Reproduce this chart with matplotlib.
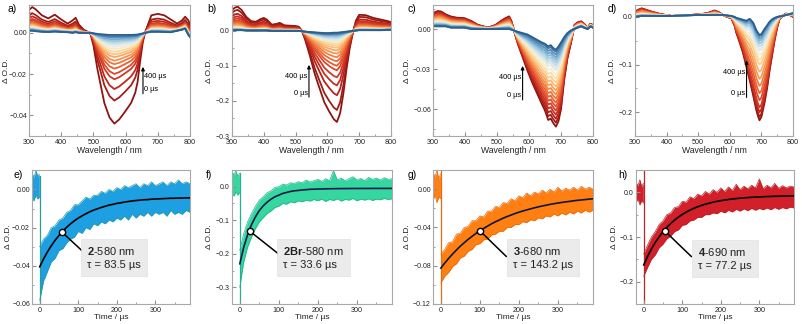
import numpy as np
import matplotlib
matplotlib.use('Agg')
import matplotlib.pyplot as plt
from matplotlib.ticker import MultipleLocator
from matplotlib.colors import LinearSegmentedColormap

# ---------------- data: transient spectra (0 us and 400 us) ----------------
wl_a = [300, 310, 320, 340, 360, 380, 400, 420, 435, 445, 455, 470, 490, 500, 513, 534,
        550, 565, 580, 596, 617, 630, 637, 645, 653, 660, 680, 700, 720, 740, 760, 775, 785, 795, 800]
a_0us = [0.011, 0.0125, 0.0115, 0.0085, 0.007, 0.0088, 0.0065, 0.0045, 0.006, 0.0073, 0.004, 0.0015,
         0.0, -0.006, -0.018, -0.034, -0.041, -0.044, -0.042, -0.0387, -0.034, -0.029, -0.024, -0.014,
         -0.005, 0.0, 0.0085, 0.0092, 0.0085, 0.0065, 0.0045, 0.006, 0.0078, 0.006, 0.004]
a_400us = [0.001, 0.001, 0.0008, 0.0005, 0.0004, 0.0006, 0.0004, 0.0003, 0.0, 0.0003, 0.0, 0.0,
           0.0, -0.0002, -0.0005, -0.0008, -0.001, -0.001, -0.001, -0.001, -0.001, -0.0009, -0.0008,
           -0.0005, -0.0003, 0.0, 0.0005, 0.0005, 0.0004, 0.0003, 0.001, 0.0015, 0.002, -0.001, -0.002]
a_frac = [1.0, 0.74, 0.61, 0.50, 0.44, 0.38, 0.33, 0.29, 0.25, 0.22, 0.19, 0.16, 0.135,
          0.11, 0.09, 0.07, 0.05, 0.03, 0.015, 0.0]

wl_b = [300, 310, 318, 330, 345, 360, 375, 390, 400, 410, 425, 440, 450, 465, 480, 500, 510,
        520, 530, 545, 560, 575, 590, 605, 620, 630, 640, 650, 660, 670, 680, 690, 700, 720,
        745, 770, 790, 800]
b_0us = [0.060, 0.067, 0.069, 0.060, 0.040, 0.028, 0.026, 0.034, 0.037, 0.032, 0.018, 0.020,
         0.023, 0.016, 0.015, 0.014, 0.012, 0.0, -0.025, -0.071, -0.122, -0.163, -0.203, -0.229,
         -0.252, -0.260, -0.235, -0.180, -0.110, -0.050, -0.005, 0.030, 0.046, 0.045, 0.037,
         0.032, 0.028, 0.025]
b_400us = [0.002, 0.002, 0.002, 0.002, 0.001, 0.001, 0.001, 0.001, 0.001, 0.001, 0.0, 0.0, 0.0,
           0.0, 0.0, 0.0, 0.0, -0.001, -0.002, -0.003, -0.004, -0.005, -0.006, -0.006, -0.005,
           -0.005, -0.004, -0.003, -0.002, -0.001, 0.0, 0.001, 0.002, 0.002, 0.002, 0.002, 0.003, 0.003]
b_frac = [1.0, 0.865, 0.70, 0.59, 0.50, 0.42, 0.37, 0.32, 0.275, 0.235, 0.20, 0.17, 0.145,
          0.125, 0.105, 0.09, 0.075, 0.062, 0.05, 0.04, 0.03, 0.022, 0.015, 0.008, 0.0]

wl_c = [300, 315, 325, 340, 356, 375, 398, 420, 440, 460, 476, 495, 512, 525, 538, 545, 552,
        565, 580, 595, 610, 625, 640, 650, 660, 668, 675, 684, 692, 700, 710, 720, 731, 742,
        752, 763, 772, 783, 792, 800]
c_0us = [0.012, 0.0135, 0.0132, 0.011, 0.0094, 0.0085, 0.0082, 0.006, 0.0032, 0.0018, 0.0014,
         0.003, 0.006, 0.008, 0.0095, 0.006, 0.0, -0.011, -0.021, -0.031, -0.040, -0.048, -0.056,
         -0.061, -0.068, -0.067, -0.070, -0.073, -0.069, -0.060, -0.038, -0.022, -0.0105, 0.003,
         0.005, 0.0058, 0.004, 0.001, 0.004, 0.003]
c_400us = [0.002, 0.002, 0.002, 0.002, 0.001, 0.001, 0.001, 0.0, 0.0, 0.0, 0.0, 0.0, 0.0, 0.0,
           0.0, -0.0005, -0.001, -0.002, -0.003, -0.004, -0.006, -0.008, -0.010, -0.011, -0.013,
           -0.012, -0.014, -0.0155, -0.013, -0.010, -0.006, -0.003, -0.001, 0.0, 0.001, 0.002,
           0.001, 0.0, 0.002, 0.001]
c_frac = [1.0, 0.948, 0.896, 0.843, 0.791, 0.739, 0.687, 0.635, 0.583, 0.530, 0.478, 0.426,
          0.374, 0.322, 0.270, 0.235, 0.200, 0.165, 0.130, 0.096, 0.061, 0.026, 0.0]

wl_d = [300, 310, 321, 335, 353, 380, 416, 450, 500, 530, 552, 565, 578, 592, 605, 615, 621,
        632, 642, 652, 663, 674, 684, 690, 694, 700, 710, 718, 726, 734, 742, 750, 757, 768,
        778, 790, 800]
d_0us = [0.011, 0.015, 0.018, 0.015, 0.011, 0.006, 0.002, 0.003, 0.005, 0.008, 0.0135, 0.010,
         0.004, 0.0, -0.003, -0.018, -0.034, -0.055, -0.076, -0.103, -0.133, -0.165, -0.196,
         -0.210, -0.217, -0.210, -0.180, -0.150, -0.112, -0.080, -0.048, -0.022, -0.005, 0.003,
         0.007, 0.004, 0.0]
d_400us = [0.0, 0.001, 0.002, 0.002, 0.002, 0.002, 0.002, 0.003, 0.004, 0.004, 0.004, 0.004,
           0.004, 0.003, 0.002, 0.0, -0.002, -0.004, -0.006, -0.008, -0.004, -0.012, -0.028,
           -0.034, -0.038, -0.036, -0.025, -0.018, -0.010, -0.005, -0.002, 0.0, 0.001, 0.002,
           0.004, 0.006, 0.008]
d_frac = [1.0, 0.96, 0.905, 0.849, 0.765, 0.682, 0.598, 0.514, 0.430, 0.346, 0.291, 0.235,
          0.179, 0.134, 0.101, 0.067, 0.039, 0.011, 0.0]

# ---------------- data: kinetic traces ----------------
t_grid = [0, 10, 20, 30, 40, 50, 60, 70, 80, 90, 100, 110, 120, 130, 140, 150, 160, 170, 180,
          190, 200, 210, 220, 230, 240, 250, 260, 270, 280, 290, 300, 310, 320, 330, 340, 350,
          360, 370, 380, 390]
t_pre = [-20, -15, -10, -5, -1]

e_fit = [-0.0405, -0.0364, -0.0327, -0.0295, -0.0266, -0.0241, -0.0218, -0.0198, -0.0180,
         -0.0164, -0.0150, -0.0138, -0.0127, -0.0117, -0.0108, -0.0101, -0.0094, -0.0088,
         -0.0082, -0.0078, -0.0073, -0.0070, -0.0066, -0.0063, -0.0060, -0.0058, -0.0056,
         -0.0054, -0.0053, -0.0051, -0.0050, -0.0049, -0.0048, -0.0047, -0.0046, -0.0046,
         -0.0045, -0.0045, -0.0044, -0.0044]
e_hi = [-0.030, -0.026, -0.024, -0.020, -0.019, -0.016, -0.015, -0.012, -0.011, -0.008, -0.008,
        -0.006, -0.004, -0.005, -0.003, -0.003, -0.001, -0.002, 0.000, -0.001, 0.001, 0.000,
        0.002, 0.001, 0.002, 0.003, 0.001, 0.003, 0.002, 0.004, 0.002, 0.003, 0.004, 0.002,
        0.004, 0.003, 0.005, 0.003, 0.004, 0.003]
e_lo = [-0.058, -0.048, -0.043, -0.038, -0.036, -0.032, -0.031, -0.028, -0.026, -0.025, -0.022,
        -0.023, -0.020, -0.021, -0.018, -0.019, -0.017, -0.018, -0.016, -0.017, -0.015, -0.016,
        -0.014, -0.016, -0.013, -0.015, -0.013, -0.014, -0.012, -0.014, -0.012, -0.013, -0.012,
        -0.014, -0.011, -0.013, -0.012, -0.013, -0.011, -0.012]
e_pre_hi = [0.009, 0.006, 0.010, 0.007, 0.008]
e_pre_lo = [-0.004, -0.006, -0.003, -0.005, -0.004]
e_spike = [0.007, -0.060]

f_fit = [-0.230, -0.181, -0.143, -0.113, -0.090, -0.071, -0.057, -0.046, -0.037, -0.030,
         -0.025, -0.020, -0.017, -0.014, -0.012, -0.011, -0.0095, -0.0086, -0.0077, -0.0073,
         -0.0068, -0.0065, -0.0062, -0.0060, -0.0058, -0.0056, -0.0055, -0.0054, -0.0053,
         -0.0052, -0.0052, -0.0051, -0.0051, -0.0051, -0.0050, -0.0050, -0.0050, -0.0050,
         -0.0050, -0.0050]
f_hi = [-0.190, -0.140, -0.105, -0.080, -0.058, -0.040, -0.030, -0.018, -0.012, -0.002, 0.000,
        0.008, 0.005, 0.012, 0.010, 0.015, 0.012, 0.020, 0.014, 0.018, 0.022, 0.016, 0.024,
        0.018, 0.048, 0.020, 0.026, 0.018, 0.024, 0.030, 0.020, 0.025, 0.018, 0.028, 0.022,
        0.026, 0.020, 0.027, 0.022, 0.024]
f_lo = [-0.300, -0.225, -0.180, -0.150, -0.125, -0.105, -0.092, -0.080, -0.072, -0.062, -0.058,
        -0.050, -0.052, -0.045, -0.048, -0.042, -0.045, -0.040, -0.043, -0.038, -0.042, -0.037,
        -0.044, -0.038, -0.041, -0.036, -0.043, -0.038, -0.040, -0.035, -0.042, -0.037, -0.040,
        -0.036, -0.041, -0.037, -0.039, -0.035, -0.038, -0.036]
f_pre_hi = [0.045, 0.035, 0.048, 0.030, 0.040]
f_pre_lo = [-0.020, -0.028, -0.015, -0.025, -0.018]
f_spike = [0.040, -0.350]

g_fit = [-0.0825, -0.0773, -0.0724, -0.0679, -0.0636, -0.0596, -0.0560, -0.0525, -0.0493,
         -0.0463, -0.0435, -0.0410, -0.0386, -0.0362, -0.0341, -0.0322, -0.0303, -0.0286,
         -0.0271, -0.0255, -0.0241, -0.0229, -0.0217, -0.0206, -0.0195, -0.0185, -0.0176,
         -0.0168, -0.0159, -0.0152, -0.0145, -0.0139, -0.0133, -0.0128, -0.0122, -0.0117,
         -0.0113, -0.0109, -0.0104, -0.0101]
g_hi = [-0.068, -0.063, -0.056, -0.055, -0.047, -0.046, -0.040, -0.039, -0.033, -0.033, -0.028,
        -0.029, -0.023, -0.023, -0.018, -0.019, -0.014, -0.015, -0.010, -0.012, -0.007, -0.009,
        -0.004, -0.007, -0.003, -0.005, -0.001, -0.004, 0.000, -0.003, 0.002, -0.002, 0.001,
        -0.001, 0.002, -0.001, 0.003, 0.000, 0.002, 0.000]
g_lo = [-0.098, -0.091, -0.087, -0.081, -0.078, -0.072, -0.070, -0.065, -0.063, -0.058, -0.057,
        -0.053, -0.052, -0.048, -0.047, -0.044, -0.044, -0.040, -0.040, -0.037, -0.037, -0.034,
        -0.035, -0.032, -0.033, -0.030, -0.031, -0.028, -0.029, -0.026, -0.028, -0.025, -0.027,
        -0.024, -0.026, -0.023, -0.025, -0.022, -0.024, -0.022]
g_pre_hi = [0.018, 0.012, 0.020, 0.010, 0.016]
g_pre_lo = [-0.012, -0.006, -0.014, -0.008, -0.010]
g_spike = [0.020, -0.120]

h_fit = [-0.1625, -0.1435, -0.1270, -0.1124, -0.0997, -0.0883, -0.0785, -0.0698, -0.0622,
         -0.0555, -0.0496, -0.0445, -0.0398, -0.0359, -0.0323, -0.0292, -0.0266, -0.0243,
         -0.0221, -0.0202, -0.0187, -0.0173, -0.0160, -0.0149, -0.0140, -0.0131, -0.0123,
         -0.0117, -0.0112, -0.0106, -0.0103, -0.0098, -0.0095, -0.0092, -0.0089, -0.0087,
         -0.0084, -0.0082, -0.0081, -0.0080]
h_hi = [-0.138, -0.118, -0.100, -0.088, -0.072, -0.064, -0.050, -0.046, -0.034, -0.032, -0.020,
        -0.022, -0.010, -0.014, -0.004, -0.008, 0.002, -0.004, 0.006, 0.000, 0.010, 0.002, 0.012,
        0.004, 0.018, 0.006, 0.014, 0.008, 0.016, 0.010, 0.030, 0.008, 0.016, 0.010, 0.020,
        0.009, 0.015, 0.010, 0.014, 0.012]
h_lo = [-0.188, -0.168, -0.150, -0.140, -0.124, -0.116, -0.104, -0.098, -0.088, -0.084, -0.074,
        -0.072, -0.064, -0.062, -0.056, -0.056, -0.050, -0.050, -0.046, -0.048, -0.042, -0.046,
        -0.040, -0.044, -0.038, -0.042, -0.037, -0.041, -0.036, -0.040, -0.036, -0.039, -0.035,
        -0.039, -0.034, -0.038, -0.034, -0.037, -0.033, -0.035]
h_pre_hi = [0.022, 0.015, 0.028, 0.012, 0.020]
h_pre_lo = [-0.022, -0.015, -0.028, -0.018, -0.024]
h_spike = [0.050, -0.250]

# marker on the fit, end of connector, labels
mark_t = [57, 25, 100, 56]
mark_v = [-0.0222, -0.132, -0.0435, -0.0876]
conn_t = [128, 103, 168, 124]
conn_v = [-0.0355, -0.204, -0.0704, -0.144]
compound = ['2', '2Br', '3', '4']
probe_nm = [580, 580, 680, 690]
tau_us = [83.5, 33.6, 143.2, 77.2]

# ---------------- style ----------------
plt.rcParams.update({
    'font.family': ['Liberation Sans', 'DejaVu Sans'],
    'font.size': 5.3,
    'mathtext.fontset': 'custom',
    'mathtext.rm': 'Liberation Sans',
    'mathtext.bf': 'Liberation Sans:bold',
    'axes.edgecolor': '#a8a8a8',
    'axes.linewidth': 0.8,
    'xtick.direction': 'in', 'ytick.direction': 'in',
    'xtick.color': '#909090', 'ytick.color': '#909090',
    'xtick.labelcolor': '#222222', 'ytick.labelcolor': '#222222',
    'xtick.major.size': 3, 'ytick.major.size': 3,
    'xtick.minor.size': 1.6, 'ytick.minor.size': 1.6,
    'xtick.major.pad': 2, 'ytick.major.pad': 1.5,
    'xtick.labelsize': 5.2, 'ytick.labelsize': 5.0,
})

tas_cmap = LinearSegmentedColormap.from_list('tas', [
    '#8c1610', '#c0261d', '#dc4529', '#ee7038', '#f89f5a', '#fccf8a', '#f6efd6',
    '#cfe4ef', '#94c3dc', '#5a93c0', '#2e5f8c'])

W, H = 802, 324
fig = plt.figure(figsize=(W / 100, H / 100), dpi=100)


def px_axes(x0, x1, y0, y1):
    return fig.add_axes([x0 / W, 1 - y1 / H, (x1 - x0) / W, (y1 - y0) / H])


top_specs = [
    (wl_a, a_0us, a_400us, a_frac, (29, 190), (-0.05, 0.0135), 0.02, 'a)', 8, 22.5,
     (654, -0.0295, -0.0165, 'right')),
    (wl_b, b_0us, b_400us, b_frac, (232, 391), (-0.30, 0.074), 0.1, 'b)', 207, 23,
     (542, -0.189, -0.097, 'left')),
    (wl_c, c_0us, c_400us, c_frac, (433, 593), (-0.08, 0.018), 0.03, 'c)', 407, 25,
     (580, -0.053, -0.0276, 'left')),
    (wl_d, d_0us, d_400us, d_frac, (635, 793), (-0.25, 0.025), 0.1, 'd)', 608, 23,
     (653, -0.169, -0.091, 'left')),
]

for wl, s0, s400, frac, (x0, x1), ylim, ymaj, letter, lx, lab_off, arr in top_specs:
    ax = px_axes(x0, x1, 5, 136)
    s0 = np.array(s0)
    s400 = np.array(s400)
    n = len(frac)
    for i, fr in enumerate(frac):
        ax.plot(wl, s400 + fr * (s0 - s400), color=tas_cmap(i / (n - 1)), lw=1.3,
                solid_joinstyle='round', zorder=2 + i * 0.01)
    ax.set_xlim(300, 800)
    ax.set_ylim(*ylim)
    ax.xaxis.set_major_locator(MultipleLocator(100))
    ax.xaxis.set_minor_locator(MultipleLocator(50))
    ax.yaxis.set_major_locator(MultipleLocator(ymaj))
    ax.yaxis.set_minor_locator(MultipleLocator(ymaj / 2))
    ax.set_xlabel('Wavelength / nm', fontsize=6.2, labelpad=0.5, color='#222222')
    ax.set_ylabel('Δ O.D.', fontsize=6.0, color='#222222', va='center')
    ax.yaxis.set_label_coords(-lab_off / (x1 - x0), 0.5)
    fig.text(lx / W, 1 - 4 / H, letter, fontsize=7.5, va='top', ha='left')
    ax_x, y_lo, y_hi, side = arr
    ax.annotate('', xy=(ax_x, y_hi), xytext=(ax_x, y_lo),
                arrowprops=dict(arrowstyle='-|>', lw=0.8, color='black', mutation_scale=5,
                                shrinkA=0, shrinkB=0))
    dy = (ylim[1] - ylim[0])
    if side == 'right':
        ax.text(ax_x + 4, y_hi - 0.07 * dy, '400 µs', fontsize=5.3, ha='left', va='center')
        ax.text(ax_x + 4, y_lo + 0.03 * dy, '0 µs', fontsize=5.3, ha='left', va='center')
    else:
        ax.text(ax_x - 4, y_hi - 0.09 * dy, '400 µs', fontsize=5.3, ha='right', va='center')
        ax.text(ax_x - 4, y_lo + 0.03 * dy, '0 µs', fontsize=5.3, ha='right', va='center')

bottom_specs = [
    (e_fit, e_hi, e_lo, e_pre_hi, e_pre_lo, e_spike, (32, 190), (-0.06, 0.0102), 0.02,
     '#1d9fe2', '#2a9c9c', 'black', 'e)', 13, 24, (0.348, 0.347)),
    (f_fit, f_hi, f_lo, f_pre_hi, f_pre_lo, f_spike, (232, 392), (-0.35, 0.05), 0.1,
     '#35d6a0', '#22b08e', '#0c1a4a', 'f)', 206, 23, (0.32, 0.347)),
    (g_fit, g_hi, g_lo, g_pre_hi, g_pre_lo, g_spike, (433, 593), (-0.12, 0.02), 0.04,
     '#ff7f12', '#e56a10', '#10163a', 'g)', 408, 25, (0.498, 0.347)),
    (h_fit, h_hi, h_lo, h_pre_hi, h_pre_lo, h_spike, (636, 794), (-0.25, 0.05), 0.1,
     '#d21f29', '#b3272a', 'black', 'h)', 618, 21, (0.394, 0.337)),
]

for k, (fit, hi, lo, phi, plo, spike, (x0, x1), ylim, ymaj, col, edge, fitc, letter, lx,
        lab_off, (bx, by)) in enumerate(bottom_specs):
    ax = px_axes(x0, x1, 170, 304)
    ax.fill_between(t_pre, plo, phi, color=col, lw=0, zorder=1)
    ax.plot(t_pre, phi, color=edge, lw=0.5, zorder=1)
    ax.plot(t_pre, plo, color=edge, lw=0.5, zorder=1)
    ax.fill_between(t_grid, lo, hi, color=col, lw=0, zorder=1)
    ax.plot(t_grid, hi, color=edge, lw=0.5, zorder=1)
    ax.plot(t_grid, lo, color=edge, lw=0.5, zorder=1)
    ax.plot([0, 0], spike, color=edge, lw=0.9, zorder=1)
    ax.plot(t_grid, fit, color=fitc, lw=1.2, zorder=3)
    ax.annotate('', xy=(mark_t[k], mark_v[k]), xytext=(conn_t[k], conn_v[k]),
                arrowprops=dict(arrowstyle='-', lw=1.1, color='black', shrinkA=0, shrinkB=0),
                zorder=4)
    ax.plot([mark_t[k]], [mark_v[k]], 'o', ms=4.5, mfc='white', mec='black', mew=1.0, zorder=5)
    label = '$\\mathbf{' + compound[k] + '}$-' + str(probe_nm[k]) + ' nm\nτ = ' + str(tau_us[k]) + ' µs'
    ax.text(bx, by, label, transform=ax.transAxes, fontsize=8.0, ha='left', va='center',
            linespacing=1.35, color='#222222',
            bbox=dict(boxstyle='square,pad=0.55', fc='#ebebeb', ec='#dddddd', lw=0.4), zorder=6)
    ax.set_xlim(-20, 390)
    ax.set_ylim(*ylim)
    ax.xaxis.set_major_locator(MultipleLocator(100))
    ax.xaxis.set_minor_locator(MultipleLocator(50))
    ax.yaxis.set_major_locator(MultipleLocator(ymaj))
    ax.yaxis.set_minor_locator(MultipleLocator(ymaj / 2))
    ax.set_xlabel('Time / µs', fontsize=6.0, labelpad=0.3, color='#222222')
    ax.set_ylabel('Δ O.D.', fontsize=6.0, color='#222222', va='center')
    ax.yaxis.set_label_coords(-lab_off / (x1 - x0), 0.5)
    fig.text(lx / W, 1 - 170 / H, letter, fontsize=7.5, va='top', ha='left')

fig.savefig('out.png', dpi=100, facecolor='white')
